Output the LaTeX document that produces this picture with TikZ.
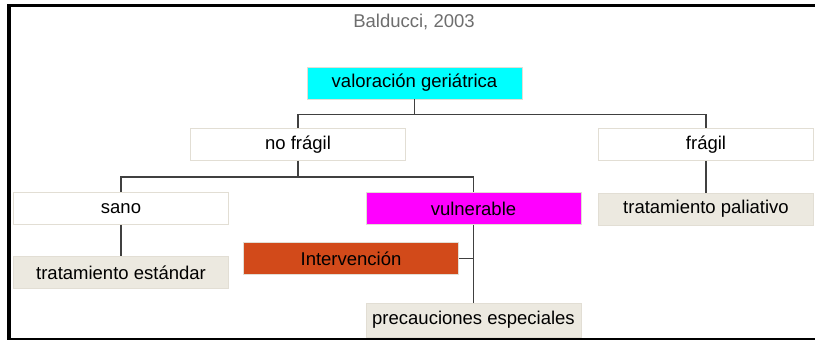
\documentclass[tikz,border=0pt]{standalone}
\usepackage{fontspec}
\setmainfont{Liberation Sans}
\definecolor{valbg}{RGB}{0,255,255}
\definecolor{vulnbg}{RGB}{255,0,255}
\definecolor{intervbg}{RGB}{210,74,26}
\definecolor{treatbg}{RGB}{236,233,224}
\definecolor{boxline}{RGB}{226,222,212}
\definecolor{linegray}{RGB}{64,64,64}
\definecolor{notegray}{RGB}{110,110,110}

\begin{document}
\begin{tikzpicture}[x=1pt, y=-1pt,
    box/.style={rectangle, draw=boxline, line width=0.8pt, minimum width=215pt, minimum height=32pt, inner sep=0pt, align=center, font=\fontsize{18.5}{22}\selectfont},
    conn/.style={draw=linegray, line width=1.5pt}
]
\useasboundingbox[fill=white] (0,0) rectangle (815,341);

\draw[line width=3pt] (815,5.5) -- (9,5.5);
\draw[line width=4pt] (9,4) -- (9,340);
\draw[line width=2pt] (9,339) -- (815,339);

\node[text=notegray, font=\fontsize{18.5}{22}\selectfont] (source) at (414,22) {Balducci, 2003};

\node[box, fill=valbg] (val) at (414.5,83) {valoración geriátrica};
\node[box, fill=white] (nofragil) at (298,144.5) {no frágil};
\node[box, fill=white] (fragil) at (706,144.5) {frágil};
\node[box, fill=white] (sano) at (121,208.5) {sano};
\node[box, fill=vulnbg] (vuln) at (473.5,208.5) {vulnerable};
\node[box, fill=treatbg] (paliativo) at (706,209) {tratamiento paliativo};
\node[box, fill=treatbg] (estandar) at (121,272.5) {tratamiento estándar};
\node[box, fill=intervbg] (interv) at (351,258.5) {Intervención};
\node[box, fill=treatbg, minimum height=34pt] (precauc) at (473.5,320) {precauciones especiales};

\draw[conn] (val.south) -- ++(0,15) -| (nofragil.north);
\draw[conn] (val.south) -- ++(0,15) -| (fragil.north);
\draw[conn] (nofragil.south) -- ++(0,16) -| (sano.north);
\draw[conn] (nofragil.south) -- ++(0,16) -| (vuln.north);
\draw[conn] (fragil.south) -- (paliativo.north);
\draw[conn] (sano.south) -- (estandar.north);
\draw[conn] (vuln.south) -- (precauc.north);
\draw[conn] (interv.east) -- (interv.east -| vuln.south);

\end{tikzpicture}
\end{document}
